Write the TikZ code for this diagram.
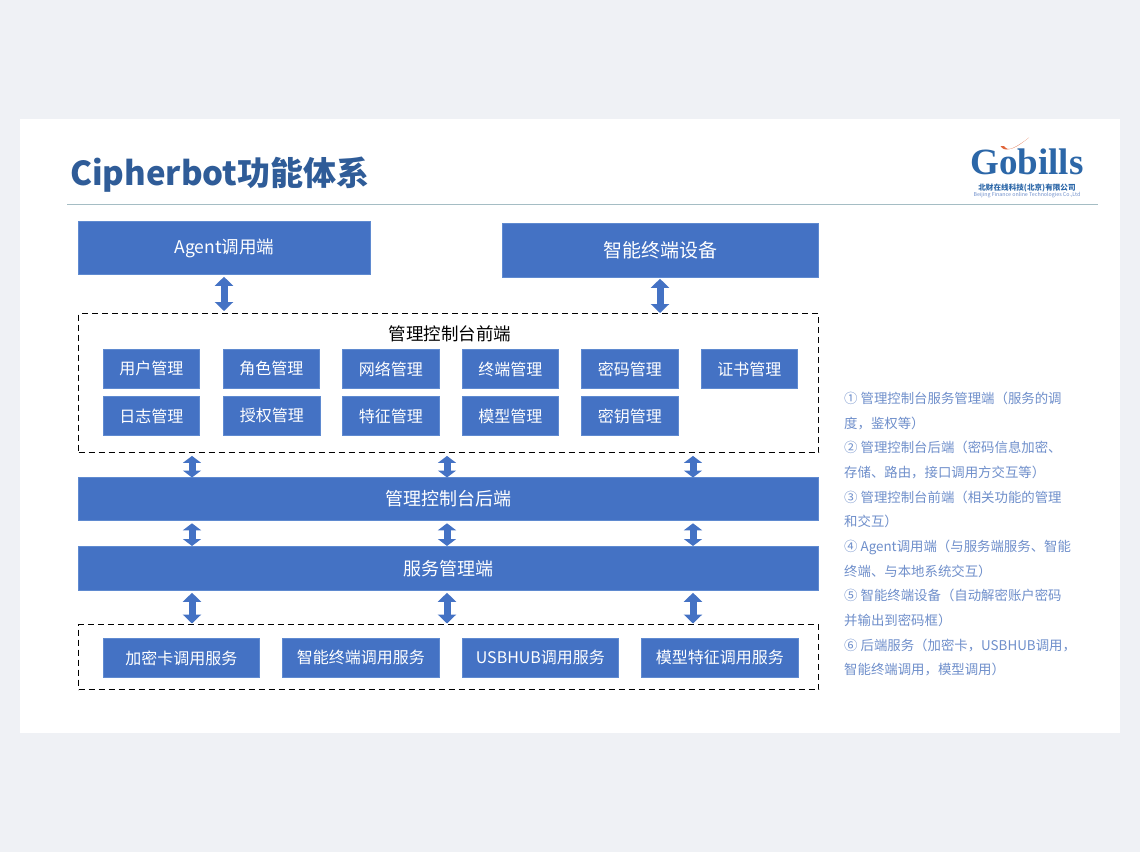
\documentclass[tikz,border=0pt]{standalone}
\usepackage{fontspec}
\usetikzlibrary{arrows.meta}
\setmainfont{Noto Sans CJK SC}
\newfontfamily\logofont{Liberation Serif}
\definecolor{pagebg}{HTML}{EFF1F5}
\definecolor{boxblue}{HTML}{4472C4}
\definecolor{boxedge}{HTML}{5F8AD0}
\definecolor{titleblue}{HTML}{2F5C98}
\definecolor{notecol}{HTML}{6F8FCB}
\definecolor{rulecol}{HTML}{A5BDC4}
\definecolor{logoblue}{HTML}{2C67A8}
\definecolor{logored}{HTML}{E0653A}
\tikzset{
 x=1pt,y=-1pt,
 bx/.style={draw=boxedge,line width=.8pt,fill=boxblue,text=white,inner sep=0pt,anchor=north west,align=center},
 dashbox/.style={draw=black,line width=1.4pt,dash pattern=on 6pt off 4pt,fill=white,inner sep=0pt,anchor=north west},
 dbl/.style={draw=boxblue,line width=7pt,{Triangle[width=18pt,length=9pt]}-{Triangle[width=18pt,length=9pt]}},
 dblsm/.style={draw=boxblue,line width=7pt,{Triangle[width=18pt,length=7pt]}-{Triangle[width=18pt,length=7pt]}},
}
\newcommand{\fz}[1]{\fontsize{#1}{#1}\selectfont}
\begin{document}
\begin{tikzpicture}
\useasboundingbox (0,0) rectangle (1140,852);
\fill[pagebg] (0,0) rectangle (1140,852);
\fill[white] (20,119) rectangle (1119.5,733);
\node[anchor=west,text=titleblue,font=\fz{33}\bfseries,inner sep=0pt] (title) at (70,175) {Cipherbot功能体系};
\coordinate (rl) at (67,204.5);
\coordinate (rr) at (1098,204.5);
\draw[rulecol,line width=.9pt] (rl) -- (rr);
% logo
\node[anchor=center,text=logoblue,font=\fz{37}\logofont\bfseries,inner sep=0pt] (logo) at (1027,162) {Gobills};
\fill[logored] (1000.5,146) .. controls (1004,152) and (1012,151) .. (1029,137.5) .. controls (1016,148) and (1008,152.5) .. (1004,146) -- cycle;
\node[anchor=center,text=logoblue,font=\fz{7.6}\bfseries,inner sep=0pt] (logocn) at (1027,187.5) {北财在线科技(北京)有限公司};
\node[anchor=center,text=notecol,font=\fz{5.3},inner sep=0pt] (logoen) at (1027,195.5) {Beijing Finance online Technologies Co.,Ltd};
% big boxes
\node[bx,minimum width=292pt,minimum height=53pt,font=\fz{17.5}] (agent) at (78,221) {Agent调用端};
\node[bx,minimum width=316pt,minimum height=54pt,font=\fz{19}] (smart) at (502,223) {智能终端设备};
\node[dashbox,minimum width=740pt,minimum height=139pt] (front) at (78,313) {};
\node[inner sep=0pt,text=black,font=\fz{17.5}] (fronttitle) at (450,334) {管理控制台前端};
\node[bx,minimum width=740pt,minimum height=43pt,font=\fz{18}] (back) at (78,477) {管理控制台后端};
\node[bx,minimum width=740pt,minimum height=44pt,font=\fz{18}] (serv) at (78,546) {服务管理端};
\node[dashbox,minimum width=740pt,minimum height=65pt] (lower) at (78,624) {};
% small boxes
\tikzset{sm/.style={bx,minimum height=39pt,font=\fz{16}}}
\node[sm,minimum width=96pt] (b1) at (103,349) {用户管理};
\node[sm,minimum width=96pt] (b2) at (223,349) {角色管理};
\node[sm,minimum width=97pt] (b3) at (342,349) {网络管理};
\node[sm,minimum width=96pt] (b4) at (462,349) {终端管理};
\node[sm,minimum width=97pt] (b5) at (581,349) {密码管理};
\node[sm,minimum width=96pt] (b6) at (701,349) {证书管理};
\node[sm,minimum width=96pt] (c1) at (103,396) {日志管理};
\node[sm,minimum width=97pt] (c2) at (223,396) {授权管理};
\node[sm,minimum width=97pt] (c3) at (342,396) {特征管理};
\node[sm,minimum width=96pt] (c4) at (462,396) {模型管理};
\node[sm,minimum width=97pt] (c5) at (581,396) {密钥管理};
\node[sm,minimum width=156pt] (d1) at (103,638) {加密卡调用服务};
\node[sm,minimum width=157pt] (d2) at (282,638) {智能终端调用服务};
\node[sm,minimum width=156pt] (d3) at (462,638) {USBHUB调用服务};
\node[sm,minimum width=157pt] (d4) at (641,638) {模型特征调用服务};
% connectors
\coordinate (xa) at (224,0);
\coordinate (xb) at (660,0);
\coordinate (x1) at (192,0);
\coordinate (x2) at (447,0);
\coordinate (x3) at (693,0);
\draw[dbl,shorten <=2pt,shorten >=2pt] (agent.south -| xa) -- (front.north -| xa);
\draw[dbl,shorten <=1pt,shorten >=0pt] (smart.south -| xb) -- (front.north -| xb);
\foreach \x in {x1,x2,x3}{
 \draw[dblsm,shorten <=2.5pt,shorten >=-.5pt] (front.south -| \x) -- (back.north -| \x);
 \draw[dblsm,shorten <=2.5pt,shorten >=0pt] (back.south -| \x) -- (serv.north -| \x);
 \draw[dbl,shorten <=2pt,shorten >=.5pt] (serv.south -| \x) -- (lower.north -| \x);
}
% notes
\node[anchor=north west,inner sep=0pt,text=notecol,font=\fontsize{13.4}{24.65}\selectfont,align=left] (notes) at (844,392) {%
① 管理控制台服务管理端（服务的调\\
度，鉴权等）\\
② 管理控制台后端（密码信息加密、\\
存储、路由，接口调用方交互等）\\
③ 管理控制台前端（相关功能的管理\\
和交互）\\
④ Agent调用端（与服务端服务、智能\\
终端、与本地系统交互）\\
⑤ 智能终端设备（自动解密账户密码\\
并输出到密码框）\\
⑥ 后端服务（加密卡，USBHUB调用，\\
智能终端调用，模型调用）};
\end{tikzpicture}
\end{document}
